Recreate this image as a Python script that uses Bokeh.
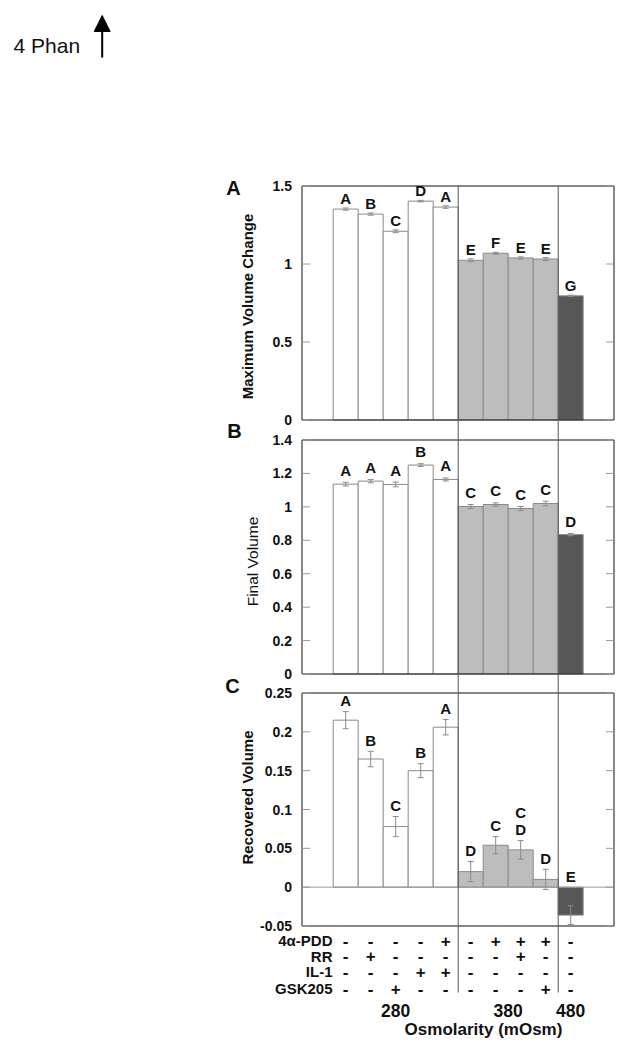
import math
from bokeh.plotting import figure
from bokeh.models import Range1d, Arrow, NormalHead
from bokeh.embed import file_html
from bokeh.resources import INLINE
from bokeh.core.properties import value

# ---------------- data ----------------
positions = [1, 2, 3, 4, 5, 6, 7, 8, 9, 10]
osmolarity = ["280", "280", "280", "280", "280", "380", "380", "380", "380", "480"]

max_change = [1.352, 1.320, 1.210, 1.403, 1.365, 1.024, 1.069, 1.039, 1.032, 0.796]
max_change_err = [0.007, 0.007, 0.009, 0.005, 0.008, 0.009, 0.006, 0.007, 0.009, 0.004]
max_letters = ["A", "B", "C", "D", "A", "E", "F", "E", "E", "G"]

final_volume = [1.136, 1.154, 1.134, 1.250, 1.164, 1.002, 1.014, 0.990, 1.020, 0.834]
final_err = [0.011, 0.010, 0.014, 0.008, 0.009, 0.012, 0.010, 0.012, 0.014, 0.007]
final_letters = ["A", "A", "A", "B", "A", "C", "C", "C", "C", "D"]

recovered = [0.215, 0.165, 0.078, 0.150, 0.206, 0.020, 0.054, 0.048, 0.010, -0.036]
recovered_err = [0.011, 0.010, 0.013, 0.009, 0.010, 0.013, 0.011, 0.012, 0.013, 0.012]
recovered_letters = ["A", "B", "C", "B", "A", "D", "C", "C\nD", "D", "E"]

treatments = ["4\u03b1-PDD", "RR", "IL-1", "GSK205"]
pdd = ["-", "-", "-", "-", "+", "-", "+", "+", "+", "-"]
rr = ["-", "+", "-", "-", "-", "-", "-", "+", "-", "-"]
il1 = ["-", "-", "-", "+", "+", "-", "-", "-", "-", "-"]
gsk = ["-", "-", "+", "-", "-", "-", "-", "-", "+", "-"]

ticks_a = [0, 0.5, 1, 1.5]
ticks_b = [0, 0.2, 0.4, 0.6, 0.8, 1, 1.2, 1.4]
ticks_c = [-0.05, 0, 0.05, 0.1, 0.15, 0.2, 0.25]

# ---------------- geometry / styling ----------------
W, H = 630, 1048
PX_PER_BAR = 25.0
BAR1_LEFT_PX = 332.7
X0 = positions[0] - 0.5 - BAR1_LEFT_PX / PX_PER_BAR
X1 = X0 + W / PX_PER_BAR
FL, FR = 301.5, 613.5          # panel frame left/right (px)
FONT = value("Liberation Sans")
INK = "#111111"
group_fill = {"280": "#ffffff", "380": "#bdbdbd", "480": "#575757"}
group_line = {"280": "#8a8a8a", "380": "#8a8a8a", "480": "#8f8f8f"}


def xb(px):
    return X0 + px / PX_PER_BAR


groups = []
for g in osmolarity:
    if g not in groups:
        groups.append(g)
group_centers = [sum(p for p, o in zip(positions, osmolarity) if o == g) /
                 sum(1 for o in osmolarity if o == g) for g in groups]
separators = [(positions[i] + positions[i + 1]) / 2 for i in range(len(positions) - 1)
              if osmolarity[i] != osmolarity[i + 1]]

p = figure(width=W, height=H, title=None, x_range=Range1d(X0, X1), y_range=Range1d(H, 0),
           x_axis_location=None, y_axis_location=None, min_border=0,
           output_backend="svg", toolbar_location=None)
p.outline_line_color = None
p.grid.visible = False
p.background_fill_color = "white"
p.border_fill_color = "white"
p.extra_x_ranges = {"px": Range1d(0, W)}

# panels: (name, values, errors, letters, ticks, v_bottom, v_top, px_top, px_bottom,
#          y label, label x, label y, label style, label size, letter gap px, letter pos)
panels = [
    ("A", max_change, max_change_err, max_letters, ticks_a, 0, 1.5, 185.5, 419.5,
     "Maximum Volume Change", 246.5, 306, "bold", "15px", 9.5, (233, 187)),
    ("B", final_volume, final_err, final_letters, ticks_b, 0, 1.4, 439.5, 673.5,
     "Final Volume", 251.5, 561, "normal", "15.5px", 12, (234, 430.5)),
    ("C", recovered, recovered_err, recovered_letters, ticks_c, -0.05, 0.25, 692.5, 925.5,
     "Recovered Volume", 246.5, 797, "bold", "15px", 11, (232, 685)),
]

GREY = "#8c8c8c"
for (name, vals, errs, letters, ticks, vb, vt, pt, pbm, ylab, lx, ly, lstyle, lsize,
     gap, (plx, ply)) in panels:
    scale = (vt - vb) / (pbm - pt)          # value units per px

    def vpx(py, vb=vb, pbm=pbm, scale=scale):
        return vb + (pbm - py) * scale

    p.extra_y_ranges[name] = Range1d(vpx(H), vpx(0))

    # bars
    p.vbar(x=positions, top=vals, bottom=0, width=1, y_range_name=name,
           fill_color=[group_fill[g] for g in osmolarity],
           line_color=[group_line[g] for g in osmolarity], line_width=1)
    # error bars
    up = [v + e for v, e in zip(vals, errs)]
    lo = [v - e for v, e in zip(vals, errs)]
    cap = 3 / PX_PER_BAR
    p.segment(x0=positions, y0=lo, x1=positions, y1=up, y_range_name=name,
              line_color=GREY, line_width=1)
    p.segment(x0=[x - cap for x in positions], y0=up, x1=[x + cap for x in positions],
              y1=up, y_range_name=name, line_color=GREY, line_width=1)
    p.segment(x0=[x - cap for x in positions], y0=lo, x1=[x + cap for x in positions],
              y1=lo, y_range_name=name, line_color=GREY, line_width=1)
    # zero line
    if vb < 0:
        p.segment(x0=[xb(FL)], y0=[0], x1=[xb(FR)], y1=[0], y_range_name=name,
                  line_color="#9a9a9a", line_width=1)
    # significance letters
    tx, ty, tt = [], [], []
    for x, v, e, t in zip(positions, vals, errs, letters):
        lines = t.split("\n")
        base = max(v + e, 0) + gap * scale
        for k, s in enumerate(lines):
            tx.append(x)
            ty.append(base + (len(lines) - 1 - k) * 17 * scale)
            tt.append(s)
    p.text(x=tx, y=ty, text=tt, y_range_name=name, text_font=FONT, text_font_style="bold",
           text_font_size="15px", text_align="center", text_baseline="middle",
           text_color=INK)
    # frame box
    p.quad(left=[xb(FL)], right=[xb(FR)], bottom=[vb], top=[vt], y_range_name=name,
           fill_color=None, line_color=INK, line_width=1)
    # inward ticks on both sides
    tk = 8
    p.segment(x0=[FL] * len(ticks), y0=ticks, x1=[FL + tk] * len(ticks), y1=ticks,
              x_range_name="px", y_range_name=name, line_color="#9a9a9a", line_width=1)
    p.segment(x0=[FR - tk] * len(ticks), y0=ticks, x1=[FR] * len(ticks), y1=ticks,
              x_range_name="px", y_range_name=name, line_color="#9a9a9a", line_width=1)
    # tick labels
    p.text(x=[FL - 10] * len(ticks), y=ticks, text=[f"{t:g}" for t in ticks],
           x_range_name="px", y_range_name=name, text_font=FONT, text_font_style="bold",
           text_font_size="14px", text_align="right", text_baseline="middle",
           text_color=INK)
    # axis title
    p.text(x=[lx], y=[ly], text=[ylab], x_range_name="px", angle=math.pi / 2,
           text_font=FONT, text_font_style=lstyle, text_font_size=lsize,
           text_align="center", text_baseline="middle", text_color=INK)
    # panel letter
    p.text(x=[plx], y=[ply], text=[name], x_range_name="px", text_font=FONT,
           text_font_style="bold", text_font_size="20px", text_align="center",
           text_baseline="middle", text_color=INK)

# group separators running through all panels and the treatment table
p.segment(x0=separators, y0=[185.5] * len(separators), x1=separators,
          y1=[992] * len(separators), line_color="#555555", line_width=1)

# treatment table
rows = [pdd, rr, il1, gsk]
row_mid = [940, 955.5, 971, 988]
p.text(x=[332] * len(treatments), y=row_mid, text=treatments, x_range_name="px",
       text_font=FONT, text_font_style="bold", text_font_size="15px", text_align="right",
       text_baseline="middle", text_color=INK)
sx, sy, st = [], [], []
for row, ym in zip(rows, row_mid):
    for x, s in zip(positions, row):
        sx.append(x)
        sy.append(ym)
        st.append(s)
p.text(x=sx, y=sy, text=st, text_font=FONT, text_font_style="bold", text_font_size="17px",
       text_align="center", text_baseline="middle", text_color=INK)
p.text(x=group_centers, y=[1010] * len(groups), text=groups, text_font=FONT,
       text_font_style="bold", text_font_size="17.5px", text_align="center",
       text_baseline="middle", text_color=INK)
p.text(x=[483], y=[1028.5], text=["Osmolarity (mOsm)"], x_range_name="px", text_font=FONT,
       text_font_style="bold", text_font_size="17px", text_align="center",
       text_baseline="middle", text_color=INK)

# header text with arrow
p.text(x=[13], y=[45], text=["4 Phan"], x_range_name="px", text_font=FONT,
       text_font_size="21px", text_align="left", text_baseline="middle", text_color=INK)
p.add_layout(Arrow(end=NormalHead(size=16, fill_color="black", line_color="black",
                                  line_width=1),
                   x_start=xb(101.7), y_start=57, x_end=xb(101.7), y_end=15,
                   line_color="black", line_width=2))

open("out.html", "w").write(file_html(p, INLINE))
